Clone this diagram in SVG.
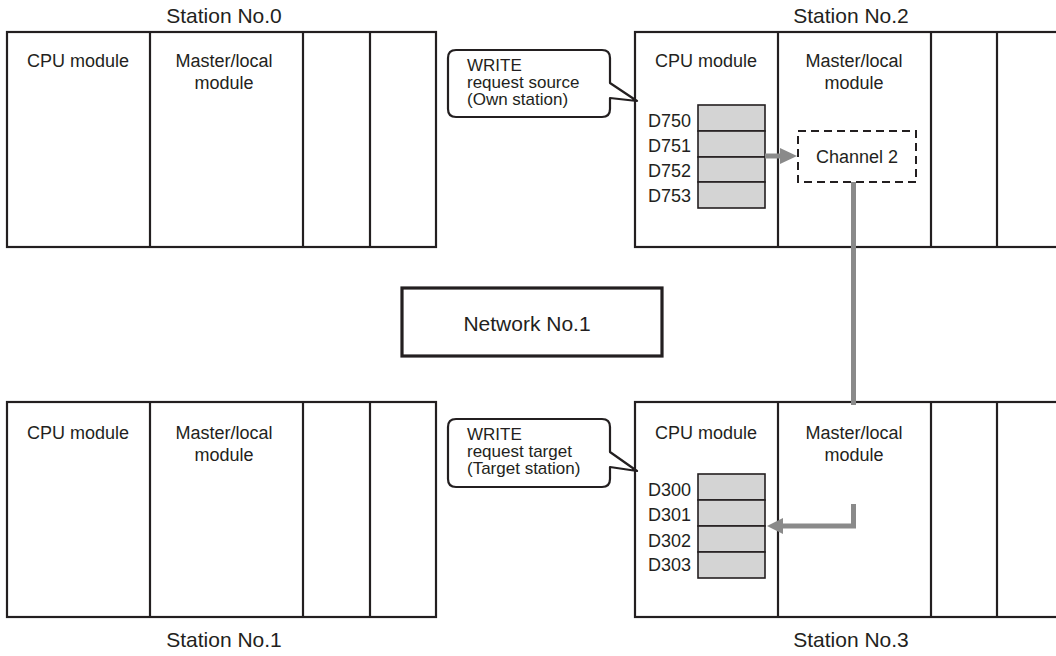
<svg xmlns="http://www.w3.org/2000/svg" width="1056" height="656" viewBox="0 0 1056 656">
<style>
text{font-family:"Liberation Sans",Arial,sans-serif;fill:#231f20}
.lbl{font-size:21px;text-anchor:middle}
.mod{font-size:18px;text-anchor:middle}
.reg{font-size:18px;text-anchor:end}
.cal{font-size:17px}
.box{fill:#fff;stroke:#231f20;stroke-width:2.2}
.div{stroke:#231f20;stroke-width:2.2}
.cell{fill:#d4d4d4;stroke:#231f20;stroke-width:1.6}
.callout{fill:#fff;stroke:#231f20;stroke-width:2.2;stroke-linejoin:round}
.flow{fill:none;stroke:#8a8a8a;stroke-width:5}
.head{fill:#8a8a8a}
</style>
<rect width="1056" height="656" fill="#fff"/>

<g id="station0">
<text class="lbl" x="224" y="23">Station No.0</text>
<rect class="box" x="7" y="32" width="429" height="215"/>
<line class="div" x1="150" y1="32" x2="150" y2="247"/>
<line class="div" x1="303" y1="32" x2="303" y2="247"/>
<line class="div" x1="370" y1="32" x2="370" y2="247"/>
<text class="mod" x="78" y="67">CPU module</text>
<text class="mod" x="224" y="67">Master/local</text>
<text class="mod" x="224" y="89">module</text>
</g>

<g id="station2">
<text class="lbl" x="851" y="23">Station No.2</text>
<rect class="box" x="635" y="32" width="430" height="215"/>
<line class="div" x1="778" y1="32" x2="778" y2="247"/>
<line class="div" x1="931" y1="32" x2="931" y2="247"/>
<line class="div" x1="997" y1="32" x2="997" y2="247"/>
<text class="mod" x="706" y="67">CPU module</text>
<text class="mod" x="854" y="67">Master/local</text>
<text class="mod" x="854" y="89">module</text>
</g>

<g id="regs-d750">
<rect class="cell" x="698" y="105" width="67" height="26"/>
<rect class="cell" x="698" y="131" width="67" height="26"/>
<rect class="cell" x="698" y="157" width="67" height="25"/>
<rect class="cell" x="698" y="182" width="67" height="26"/>
<text class="reg" x="691" y="127">D750</text>
<text class="reg" x="691" y="152">D751</text>
<text class="reg" x="691" y="177">D752</text>
<text class="reg" x="691" y="202">D753</text>
</g>

<g id="channel2">
<rect x="798" y="131" width="118" height="51" fill="#fff" stroke="#231f20" stroke-width="2" stroke-dasharray="8,5"/>
<text class="mod" x="857" y="163">Channel 2</text>
</g>

<g id="callout-source">
<path class="callout" d="M456 50 H602 Q610 50 610 58 V83 L637 101 L610 98 V109 Q610 117 602 117 H456 Q448 117 448 109 V58 Q448 50 456 50 Z"/>
<text class="cal" x="467" y="71">WRITE</text>
<text class="cal" x="467" y="88">request source</text>
<text class="cal" x="467" y="105">(Own station)</text>
</g>

<g id="network">
<rect x="402" y="288" width="260" height="68" fill="#fff" stroke="#231f20" stroke-width="3.2"/>
<text class="lbl" x="527" y="331">Network No.1</text>
</g>

<g id="station1">
<rect class="box" x="7" y="402" width="429" height="215"/>
<line class="div" x1="150" y1="402" x2="150" y2="617"/>
<line class="div" x1="303" y1="402" x2="303" y2="617"/>
<line class="div" x1="370" y1="402" x2="370" y2="617"/>
<text class="mod" x="78" y="439">CPU module</text>
<text class="mod" x="224" y="439">Master/local</text>
<text class="mod" x="224" y="461">module</text>
<text class="lbl" x="224" y="647">Station No.1</text>
</g>

<g id="station3">
<rect class="box" x="635" y="402" width="430" height="215"/>
<line class="div" x1="778" y1="402" x2="778" y2="617"/>
<line class="div" x1="931" y1="402" x2="931" y2="617"/>
<line class="div" x1="997" y1="402" x2="997" y2="617"/>
<text class="mod" x="706" y="439">CPU module</text>
<text class="mod" x="854" y="439">Master/local</text>
<text class="mod" x="854" y="461">module</text>
<text class="lbl" x="851" y="647">Station No.3</text>
</g>

<g id="regs-d300">
<rect class="cell" x="698" y="474" width="67" height="26"/>
<rect class="cell" x="698" y="500" width="67" height="26"/>
<rect class="cell" x="698" y="526" width="67" height="26"/>
<rect class="cell" x="698" y="552" width="67" height="26"/>
<text class="reg" x="691" y="496">D300</text>
<text class="reg" x="691" y="521">D301</text>
<text class="reg" x="691" y="547">D302</text>
<text class="reg" x="691" y="571">D303</text>
</g>

<g id="callout-target">
<path class="callout" d="M456 419 H602 Q610 419 610 427 V452 L637 471 L610 467 V479 Q610 487 602 487 H456 Q448 487 448 479 V427 Q448 419 456 419 Z"/>
<text class="cal" x="467" y="440">WRITE</text>
<text class="cal" x="467" y="457">request target</text>
<text class="cal" x="467" y="474">(Target station)</text>
</g>

<g id="connectors">
<line class="flow" x1="765" y1="156" x2="782" y2="156"/>
<polygon class="head" points="797,156 780,148 780,164"/>
<line class="flow" x1="853.5" y1="182" x2="853.5" y2="405"/>
<polyline class="flow" points="853.5,504 853.5,526 781,526"/>
<polygon class="head" points="767,526 783,518 783,534"/>
</g>
</svg>
